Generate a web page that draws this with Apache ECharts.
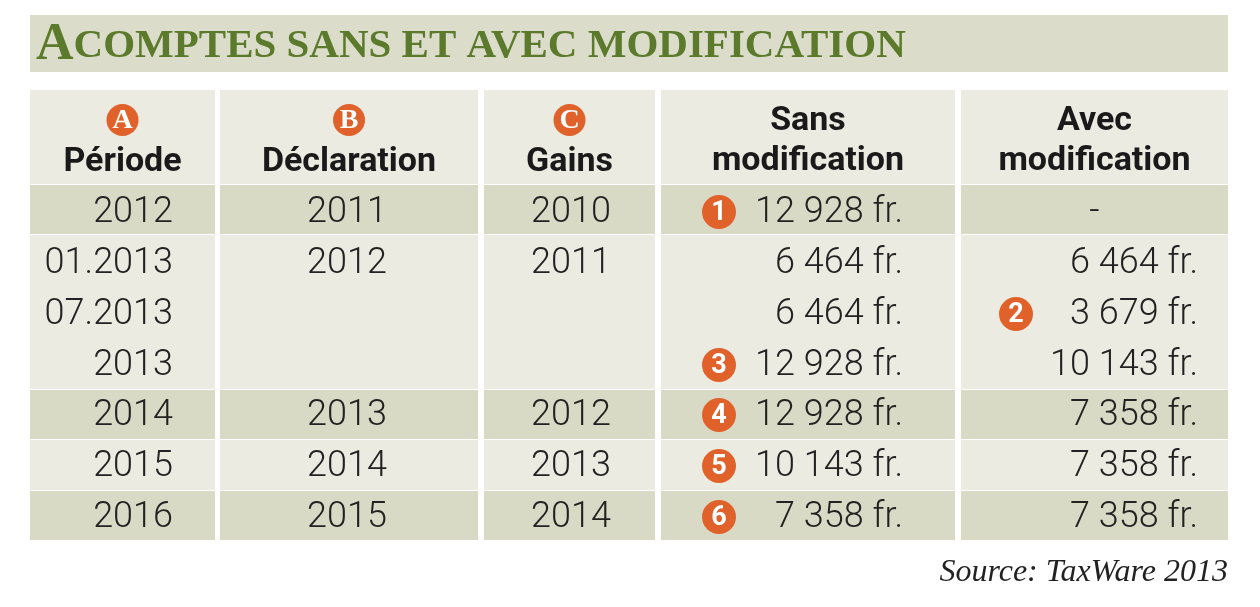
<!DOCTYPE html>
<html>
<head>
<meta charset="utf-8">
<script src="https://cdn.jsdelivr.net/npm/echarts@6/dist/echarts.min.js"></script>
<style>html,body{margin:0;padding:0;background:#fff}#main{width:1260px;height:607px}</style>
</head>
<body>
<div id="main"></div>
<script>
// colonnes du tableau
const cols = [
  { x: 30, w: 185, align: 'right', tx: 173, head: 'Période', badge: 'A' },
  { x: 220, w: 258, align: 'center', tx: 347, head: 'Déclaration', badge: 'B' },
  { x: 484, w: 171, align: 'center', tx: 571, head: 'Gains', badge: 'C' },
  { x: 661, w: 294, align: 'right', tx: 903, head: 'Sans\nmodification', badge: null, mark: 719 },
  { x: 961, w: 267, align: 'right', tx: 1198, head: 'Avec\nmodification', badge: null, mark: 1016 }
]
// lignes : [période, déclaration, gains, sans, avec, repère sans, repère avec]
const rows = [
  ['2012', '2011', '2010', '12 928 fr.', '-', '1', ''],
  ['01.2013', '2012', '2011', '6 464 fr.', '6 464 fr.', '', ''],
  ['07.2013', '', '', '6 464 fr.', '3 679 fr.', '', '2'],
  ['2013', '', '', '12 928 fr.', '10 143 fr.', '3', ''],
  ['2014', '2013', '2012', '12 928 fr.', '7 358 fr.', '4', ''],
  ['2015', '2014', '2013', '10 143 fr.', '7 358 fr.', '5', ''],
  ['2016', '2015', '2014', '7 358 fr.', '7 358 fr.', '6', '']
]
// bandes de fond : [y0, y1, couleur]
const bands = [
  [90, 184, '#ecebe2'],
  [185, 234, '#d9dac6'],
  [235, 389, '#ecebe2'],
  [390, 439, '#d9dac6'],
  [440, 490, '#ecebe2'],
  [491, 540, '#d9dac6']
]
const rowY = [212, 263, 314, 365, 415, 466, 517]
const orange = '#e0622a'
const numFont = '"Liberation Sans Narrow", "Roboto", sans-serif'

const g = []
g.push({ type: 'rect', shape: { x: 30, y: 15, width: 1198, height: 57 }, style: { fill: '#dcdccb' } })
g.push({ type: 'text', x: 36, y: 46, style: {
  text: '{a|A}{b|COMPTES SANS ET AVEC MODIFICATION}', verticalAlign: 'middle',
  rich: {
    a: { font: 'bold 52px "Liberation Serif", serif', fill: '#5b7a2b' },
    b: { font: 'bold 41px "Liberation Serif", serif', fill: '#5b7a2b' }
  }
} })
cols.forEach(c => {
  bands.forEach(b => {
    g.push({ type: 'rect', shape: { x: c.x, y: b[0], width: c.w, height: b[1] - b[0] }, style: { fill: b[2] } })
  })
  const cx = c.x + c.w / 2
  if (c.badge) {
    g.push({ type: 'circle', shape: { cx: cx, cy: 120, r: 16 }, style: { fill: orange } })
    g.push({ type: 'text', x: cx, y: 121, style: { text: c.badge, font: 'bold 28px "Liberation Serif", serif', fill: '#fff', align: 'center', verticalAlign: 'middle' } })
    g.push({ type: 'text', x: cx, y: 162, style: { text: c.head, font: 'bold 34px ' + numFont, fill: '#1a1a1a', align: 'center', verticalAlign: 'middle' } })
  } else {
    g.push({ type: 'text', x: cx, y: 141, style: { text: c.head, font: 'bold 34px ' + numFont, fill: '#1a1a1a', align: 'center', verticalAlign: 'middle', lineHeight: 40 } })
  }
})
rows.forEach((r, i) => {
  const y = rowY[i]
  cols.forEach((c, j) => {
    if (!r[j]) return
    let x = c.tx
    if (r[j] === '-') x = c.x + c.w / 2
    g.push({ type: 'text', x: x, y: y + 1, style: { text: r[j], font: '300 36px ' + numFont, fill: '#222', align: r[j] === '-' ? 'center' : c.align, verticalAlign: 'middle' } })
  })
  ;[5, 6].forEach(k => {
    if (!r[k]) return
    const mx = cols[k - 2].mark
    g.push({ type: 'circle', shape: { cx: mx, cy: y, r: 17 }, style: { fill: orange } })
    g.push({ type: 'text', x: mx, y: y + 1, style: { text: r[k], font: 'bold 27px ' + numFont, fill: '#fff', align: 'center', verticalAlign: 'middle' } })
  })
})
g.push({ type: 'text', x: 1228, y: 573, style: { text: 'Source: TaxWare 2013', font: 'italic 32px "Liberation Serif", serif', fill: '#222', align: 'right', verticalAlign: 'middle' } })

const chart = echarts.init(document.getElementById('main'))
chart.setOption({ animation: false, graphic: g })
</script>
</body>
</html>
